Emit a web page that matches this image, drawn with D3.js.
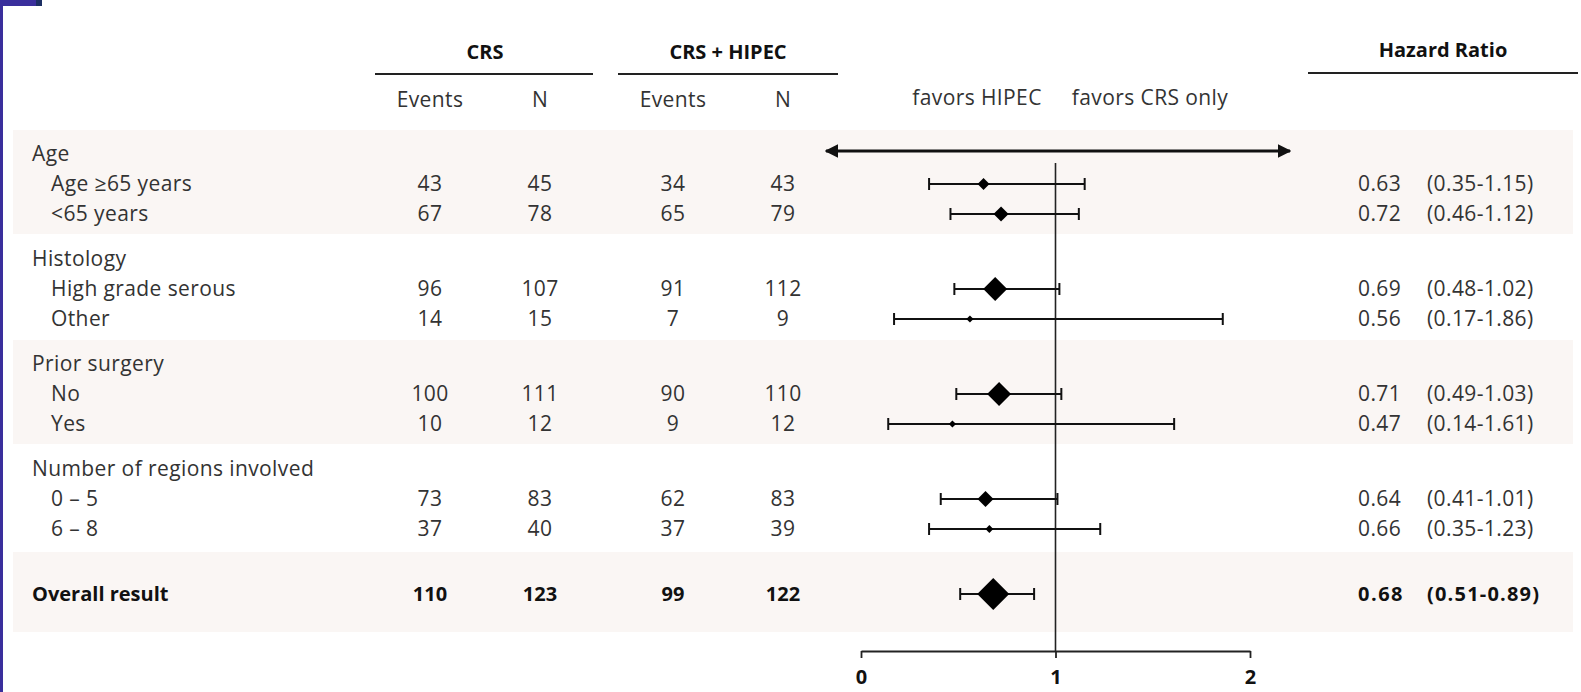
<!DOCTYPE html>
<html><head><meta charset="utf-8">
<script src="https://cdn.jsdelivr.net/npm/d3@7"></script>
<style>
html,body{margin:0;padding:0;background:#fff;}
svg{display:block;font-family:"Open Sans",Lato,sans-serif;}
</style></head>
<body>
<svg id="chart" width="1581" height="692"></svg>
<script>
// ---- data ----
const groups = ["Age", "Histology", "Prior surgery", "Number of regions involved"];
const subgroups = ["Age ≥65 years", "<65 years", "High grade serous", "Other", "No", "Yes", "0 – 5", "6 – 8", "Overall result"];
const subgroupGroup = [0, 0, 1, 1, 2, 2, 3, 3, -1];
const crsEvents = [43, 67, 96, 14, 100, 10, 73, 37, 110];
const crsN = [45, 78, 107, 15, 111, 12, 83, 40, 123];
const hipecEvents = [34, 65, 91, 7, 90, 9, 62, 37, 99];
const hipecN = [43, 79, 112, 9, 110, 12, 83, 39, 122];
const hr = [0.63, 0.72, 0.69, 0.56, 0.71, 0.47, 0.64, 0.66, 0.68];
const ciLow = [0.35, 0.46, 0.48, 0.17, 0.49, 0.14, 0.41, 0.35, 0.51];
const ciHigh = [1.15, 1.12, 1.02, 1.86, 1.03, 1.61, 1.01, 1.23, 0.89];
const weights = [14, 22, 56, 5, 56, 5, 25, 6, 100];
const axisTicks = [0, 1, 2];
const colHeaders = ["Events", "N", "Events", "N"];
const shadedGroups = [0, 2];

// ---- layout ----
const svg = d3.select("#chart");
const FONT = 21, BFONT = 20;
const LS = "0.4px";
const txt = "#333";

// frame decoration
svg.append("rect").attr("x", 0).attr("y", 0).attr("width", 3).attr("height", 692).attr("fill", "#3a2f9c");
svg.append("rect").attr("x", 0).attr("y", 0).attr("width", 36).attr("height", 6).attr("fill", "#3a2f9c");
svg.append("rect").attr("x", 36).attr("y", 0).attr("width", 6).attr("height", 6).attr("fill", "#1c2f63");

// row positions
const rowY = [];
const headerY = [];
let y0 = 154, step = 30, groupStep = 105;
groups.forEach((g, gi) => {
  headerY[gi] = y0 + gi * groupStep;
});
subgroups.forEach((s, i) => {
  const g = subgroupGroup[i];
  if (g >= 0) {
    const k = subgroupGroup.slice(0, i).filter(v => v === g).length;
    rowY[i] = headerY[g] + step * (k + 1);
  } else {
    rowY[i] = headerY[groups.length - 1] + step * 2 + 65;
  }
});

// shaded bands
shadedGroups.forEach(g => {
  const last = d3.max(subgroups.map((s, i) => subgroupGroup[i] === g ? rowY[i] : -Infinity));
  svg.append("rect").attr("x", 13).attr("width", 1560)
    .attr("y", headerY[g] - 24).attr("height", last - headerY[g] + 44)
    .attr("fill", "#faf6f4");
});
const ov = subgroups.length - 1;
svg.append("rect").attr("x", 13).attr("width", 1560)
  .attr("y", rowY[ov] - 42).attr("height", 80).attr("fill", "#faf6f4");

// x scale
const x = d3.scaleLinear().domain([0, 2]).range([861, 1250]);
const size = d3.scaleSqrt().domain([0, 100]).range([0, 16]);

// headers
const hdr = svg.append("g").attr("font-size", FONT).attr("fill", txt).attr("letter-spacing", LS);
[["CRS", 485], ["CRS + HIPEC", 728]].forEach(([t, cx]) => {
  hdr.append("text").attr("x", cx).attr("y", 52).attr("dy", "0.35em").attr("text-anchor", "middle")
    .attr("font-weight", "bold").attr("font-size", BFONT).attr("letter-spacing", 0).attr("fill", "#111").text(t);
});
hdr.append("text").attr("x", 1443).attr("y", 50).attr("dy", "0.35em").attr("text-anchor", "middle")
  .attr("font-weight", "bold").attr("font-size", BFONT).attr("letter-spacing", 0).attr("fill", "#111").text("Hazard Ratio");
[[375, 593, 74], [618, 838, 74], [1308, 1578, 73]].forEach(([a, b, yy]) => {
  svg.append("line").attr("x1", a).attr("x2", b).attr("y1", yy).attr("y2", yy)
    .attr("stroke", "#222").attr("stroke-width", 2.2);
});
const colX = [430, 540, 673, 783];
colHeaders.forEach((t, i) => {
  hdr.append("text").attr("x", colX[i]).attr("y", 100).attr("dy", "0.35em")
    .attr("text-anchor", "middle").text(t);
});
hdr.append("text").attr("x", 977).attr("y", 98).attr("dy", "0.35em").attr("text-anchor", "middle").text("favors HIPEC");
hdr.append("text").attr("x", 1150).attr("y", 98).attr("dy", "0.35em").attr("text-anchor", "middle").text("favors CRS only");

// arrow
const defs = svg.append("defs");
defs.append("marker").attr("id", "ah").attr("viewBox", "0 0 10 10").attr("refX", 9).attr("refY", 5)
  .attr("markerWidth", 4.5).attr("markerHeight", 4.5).attr("orient", "auto-start-reverse")
  .attr("markerUnits", "strokeWidth")
  .append("path").attr("d", "M0,0 L10,5 L0,10 Z").attr("fill", "#111");
svg.append("line").attr("x1", 826).attr("x2", 1290).attr("y1", 151).attr("y2", 151)
  .attr("stroke", "#111").attr("stroke-width", 3)
  .attr("marker-start", "url(#ah)").attr("marker-end", "url(#ah)");

// reference line
svg.append("line").attr("x1", x(1)).attr("x2", x(1)).attr("y1", 163).attr("y2", 651)
  .attr("stroke", "#222").attr("stroke-width", 1.6);

// axis
const axis = svg.append("g").attr("transform", "translate(0,651)")
  .call(d3.axisBottom(x).tickValues(axisTicks).tickSize(7).tickSizeOuter(0).tickFormat(d3.format("d")));
axis.select(".domain").attr("stroke", "#222").attr("stroke-width", 1.8);
axis.selectAll(".tick line").attr("stroke", "#222").attr("stroke-width", 1.8);
axis.selectAll(".tick text").attr("font-size", BFONT).attr("font-weight", "bold").attr("fill", "#111")
  .attr("font-family", "'Open Sans', sans-serif").attr("y", 26).attr("dy", "0.35em");

// group headers
const lab = svg.append("g").attr("font-size", FONT).attr("fill", txt).attr("letter-spacing", LS);
groups.forEach((g, gi) => {
  lab.append("text").attr("x", 32).attr("y", headerY[gi]).attr("dy", "0.35em").text(g);
});
// rows
subgroups.forEach((s, i) => {
  const isOv = subgroupGroup[i] < 0;
  const gRow = lab.append("g").attr("font-weight", isOv ? "bold" : "normal").attr("fill", isOv ? "#111" : txt);
  if (isOv) gRow.attr("font-size", BFONT).attr("letter-spacing", 0);
  gRow.append("text").attr("x", isOv ? 32 : 51).attr("y", rowY[i]).attr("dy", "0.35em").text(s);
  [crsEvents[i], crsN[i], hipecEvents[i], hipecN[i]].forEach((v, c) => {
    gRow.append("text").attr("x", colX[c]).attr("y", rowY[i]).attr("dy", "0.35em")
      .attr("text-anchor", "middle").text(v);
  });
  gRow.append("text").attr("x", 1358).attr("y", rowY[i]).attr("dy", "0.35em")
    .attr("letter-spacing", isOv ? "1.5px" : null).text(hr[i].toFixed(2));
  gRow.append("text").attr("x", 1427).attr("y", rowY[i]).attr("dy", "0.35em")
    .attr("letter-spacing", isOv ? "1.2px" : null)
    .text("(" + ciLow[i].toFixed(2) + "-" + ciHigh[i].toFixed(2) + ")");

  // CI line and caps
  const ci = svg.append("g").attr("stroke", "#111").attr("stroke-width", 2);
  ci.append("line").attr("x1", x(ciLow[i])).attr("x2", x(ciHigh[i])).attr("y1", rowY[i]).attr("y2", rowY[i]);
  [ciLow[i], ciHigh[i]].forEach(v => {
    ci.append("line").attr("x1", x(v)).attr("x2", x(v)).attr("y1", rowY[i] - 6).attr("y2", rowY[i] + 6);
  });
  const r = size(weights[i]);
  const cx = x(hr[i]), cy = rowY[i];
  svg.append("path").attr("d", `M${cx - r},${cy} L${cx},${cy - r} L${cx + r},${cy} L${cx},${cy + r} Z`)
    .attr("fill", "#000");
});
</script>
</body></html>
